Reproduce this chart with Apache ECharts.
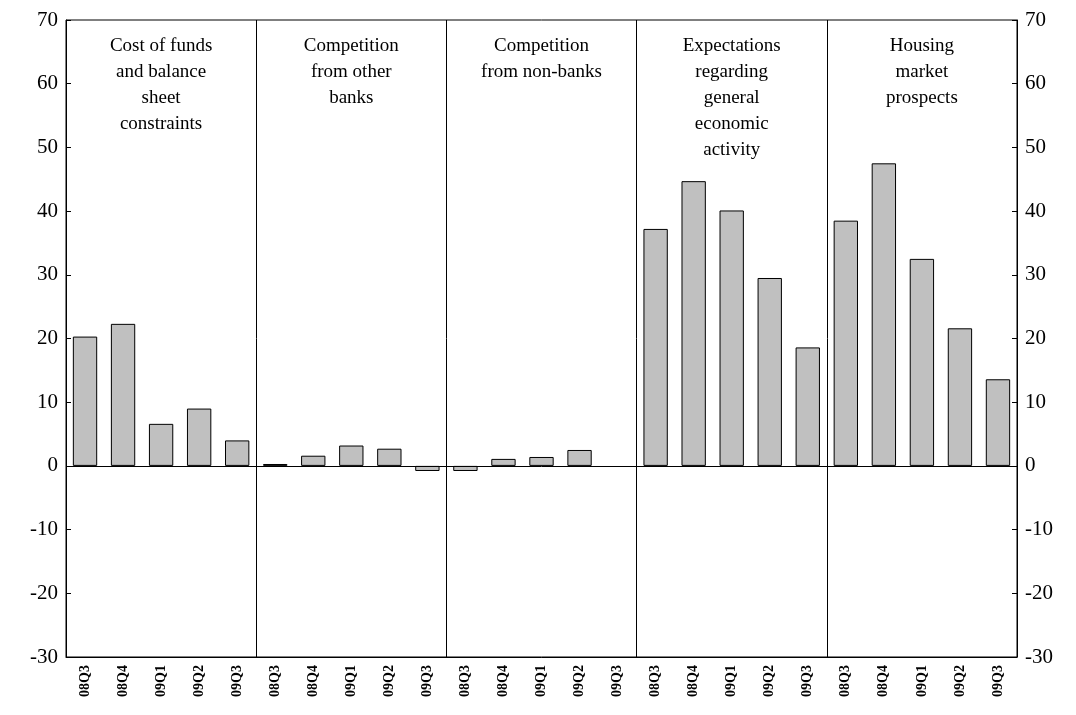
<!DOCTYPE html>
<html><head><meta charset="utf-8">
<script src="https://cdn.jsdelivr.net/npm/echarts@6/dist/echarts.min.js"></script>
<style>html,body{margin:0;background:#fff}#c{width:1076px;height:715px}</style>
</head><body><div id="c"></div>
<script>
var quarters = ['08Q3', '08Q4', '09Q1', '09Q2', '09Q3']
var groups = ['Cost of funds\nand balance\nsheet\nconstraints', 'Competition\nfrom other\nbanks', 'Competition\nfrom non-banks', 'Expectations\nregarding\ngeneral\neconomic\nactivity', 'Housing\nmarket\nprospects']
var costFunds = [20.3, 22.3, 6.6, 9.0, 4.0]
var otherBanks = [0.3, 1.6, 3.2, 2.7, -0.8]
var nonBanks = [-0.8, 1.1, 1.4, 2.5, null]
var economic = [37.2, 44.7, 40.1, 29.5, 18.6]
var housing = [38.5, 47.5, 32.5, 21.6, 13.6]

var categories = []
groups.forEach(function (g, gi) { quarters.forEach(function (q) { categories.push(q + '_' + gi) }) })
var values = [].concat(costFunds, otherBanks, nonBanks, economic, housing)

var font = 'Liberation Serif'
var yAxisCommon = {
  type: 'value', min: -30, max: 70, interval: 10,
  axisLine: { show: true, lineStyle: { color: '#000' } },
  axisTick: { show: true, inside: true, lineStyle: { color: '#000' } },
  splitLine: { show: false },
  axisLabel: { color: '#000', fontSize: 21, fontFamily: font }
}

var chart = echarts.init(document.getElementById('c'))
chart.setOption({
  animation: false,
  grid: { left: 66, right: 59, top: 20, bottom: 58, show: true, borderColor: '#000', borderWidth: 1 },
  xAxis: {
    type: 'category', data: categories,
    axisLine: { onZero: false, lineStyle: { color: '#000' } },
    axisTick: { show: false },
    splitLine: { show: true, interval: function (i) { return i > 0 && i % 5 === 0 }, lineStyle: { color: '#000', width: 1 } },
    axisLabel: {
      rotate: 90, interval: 0, color: '#000', fontSize: 14, fontWeight: 'bold', fontFamily: font,
      formatter: function (v) { return v.split('_')[0] }
    }
  },
  yAxis: [Object.assign({ position: 'left' }, yAxisCommon), Object.assign({ position: 'right' }, yAxisCommon)],
  series: [{
    type: 'bar', data: values, barCategoryGap: '36%',
    itemStyle: { color: '#c0c0c0', borderColor: '#000', borderWidth: 1 },
    markLine: { symbol: 'none', silent: true, label: { show: false }, lineStyle: { color: '#000', type: 'solid', width: 1 }, data: [{ yAxis: 0 }] }
  }]
})

var gfx = groups.map(function (g, gi) {
  var x = chart.convertToPixel({ xAxisIndex: 0 }, categories[gi * 5 + 2])
  return {
    type: 'text', x: x, y: 33,
    style: { text: g, fill: '#000', font: '19px "Liberation Serif"', align: 'center', lineHeight: 26 }
  }
})
chart.setOption({ graphic: gfx })
</script></body></html>
